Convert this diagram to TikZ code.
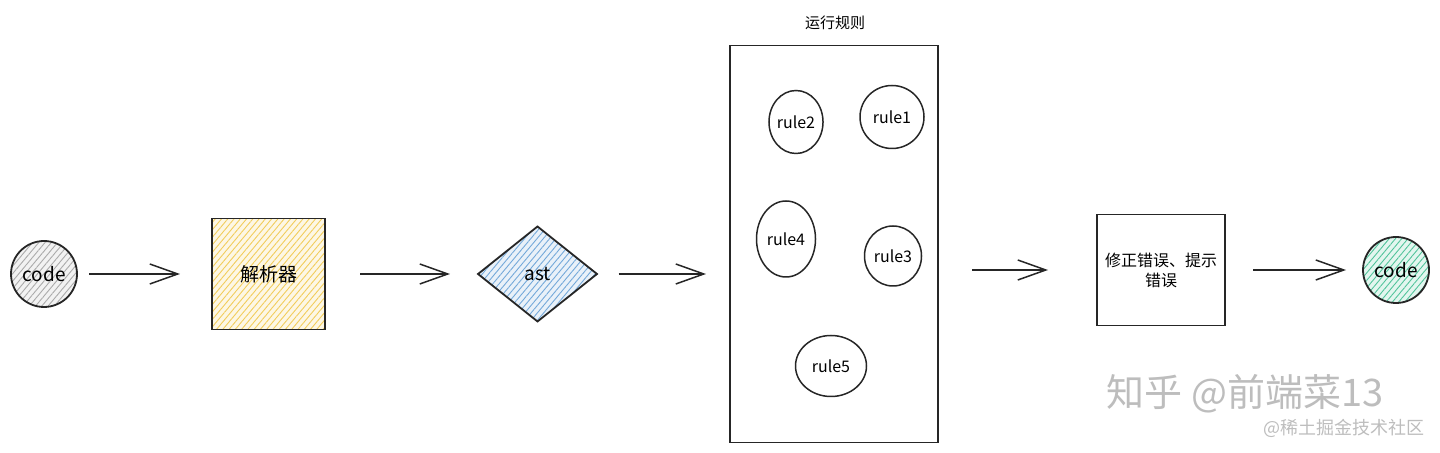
\documentclass[tikz,border=0pt]{standalone}
\usepackage{fontspec}
\setmainfont{Noto Sans CJK SC}
\usepackage{tikz}
\usetikzlibrary{shapes.geometric,arrows.meta,positioning,patterns.meta}
\definecolor{codecol}{HTML}{ABABAB}
\definecolor{parsecol}{HTML}{F2CD5C}
\definecolor{astcol}{HTML}{74A9DA}
\definecolor{outcol}{HTML}{52C49B}
\definecolor{markcol}{HTML}{BDBDBD}
\tikzset{
  hatch/.style={preaction={fill=#1!16},preaction={pattern={Lines[angle=50,distance=2.4pt,line width=0.45pt]},pattern color=#1}},
  blob/.style={circle,draw=black!85,line width=0.9pt,minimum size=33pt,inner sep=0pt,outer sep=0pt,font=\fontsize{9.5}{11}\selectfont},
  blockbox/.style={rectangle,draw=black!85,line width=0.9pt,inner sep=0pt,outer sep=0pt,align=center},
  rulenode/.style={ellipse,draw=black!85,line width=0.75pt,inner sep=0pt,outer sep=0pt,font=\fontsize{8}{9}\selectfont},
  flow/.style={-{Straight Barb[length=14pt,width=10pt]},line width=0.75pt,black!85}
}

\begin{document}
\begin{tikzpicture}[x=1pt,y=-1pt]
  \useasboundingbox (0,0) rectangle (720,226.5);

  % main chain
  \node[blob,hatch=codecol] (codein) at (22,137) {code};
  \node[blockbox,hatch=parsecol,minimum width=56.5pt,minimum height=55.5pt,font=\fontsize{9.5}{11}\selectfont,right=67.5pt of codein] (parser) {解析器};
  \node[diamond,aspect=1.25,draw=black!85,line width=0.9pt,inner sep=0pt,outer sep=0pt,minimum width=59.5pt,minimum height=47.5pt,hatch=astcol,font=\fontsize{9.5}{11}\selectfont,right=76.5pt of parser] (ast) {ast};

  % rule set
  \node[blockbox,minimum width=104pt,minimum height=198.5pt] (rules) at (417,122) {};
  \node[font=\fontsize{7.5}{9}\selectfont] (rulestitle) at (417.5,11.5) {运行规则};
  \node[rulenode,minimum width=25pt,minimum height=31.5pt] (rule2) at (398,61) {rule2};
  \node[rulenode,minimum width=32pt,minimum height=31.5pt] (rule1) at (446,58.5) {rule1};
  \node[rulenode,minimum width=29.5pt,minimum height=38pt] (rule4) at (393,119.5) {rule4};
  \node[rulenode,minimum width=28.5pt,minimum height=30pt] (rule3) at (446.5,128) {rule3};
  \node[rulenode,minimum width=35.5pt,minimum height=30.5pt] (rule5) at (415.5,183) {rule5};

  % output
  \node[blockbox,minimum width=64pt,minimum height=55.5pt,font=\fontsize{8}{10}\selectfont] (fix) at (580.5,135) {修正错误、提示\\错误};
  \node[blob,hatch=outcol,right=69pt of fix] (codeout) {code};

  \draw[flow,shorten <=6pt,shorten >=16pt] (codein) -- (parser);
  \draw[flow,shorten <=17.5pt,shorten >=14pt] (parser) -- (ast);
  \draw[flow,shorten <=10.75pt,shorten >=12pt] (ast.east) -- (ast.east -| rules.west);
  \draw[flow,shorten <=17pt,shorten >=24.5pt] (fix.west -| rules.east) -- (fix.west);
  \draw[flow,shorten <=14pt,shorten >=8.5pt] (fix) -- (codeout);

  % watermark
  \node[text=markcol,font=\fontsize{19}{21}\selectfont] (markzh) at (622.5,197) {知乎 @前端菜13};
  \node[text=markcol,font=\fontsize{9}{10}\selectfont] (markjj) at (672,214) {@稀土掘金技术社区};
\end{tikzpicture}
\end{document}
